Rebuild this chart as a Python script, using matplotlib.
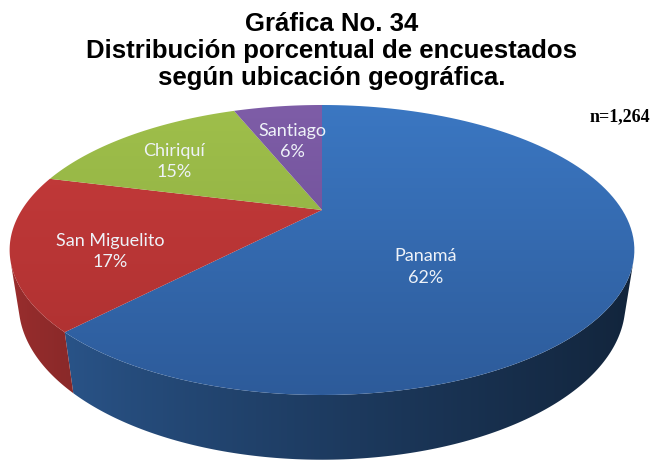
import numpy as np
import matplotlib.pyplot as plt
from matplotlib.patches import Polygon
from matplotlib.colors import to_rgb

# data
places = ["Panamá", "San Miguelito", "Chiriquí", "Santiago"]
shares = [62, 17, 15, 6]
top_colors = ["#3b77c2", "#c73b3b", "#9fbf4b", "#7e5da7"]
low_colors = ["#2d5b9a", "#ab3030", "#88a83d", "#674890"]
title = "Gráfica No. 34\nDistribución porcentual de encuestados\nsegún ubicación geográfica."
n_label = "n=1,264"

# view of the tilted disc, in pixels
W, H = 663, 463
CX, CY = 322, 210
F, DIST = 974, 3.244
TILT = np.radians(26.5)
DEPTH = 0.2
# small nudges of the labels away from the slice centroid
label_nudge = [(33, -2), (-15, 8), (-20, -2), (0, 0)]


def project(x, y, z):
    c, s = np.cos(TILT), np.sin(TILT)
    v = y * s + z * c
    w = y * c - z * s
    return CX + F * x / (DIST + w), CY - F * v / (DIST + w)


def side_shade(phi):
    return 0.3 + 0.5 * ((1 - np.sin(phi)) / 2) ** 1.3


fig = plt.figure(figsize=(W / 100, H / 100), dpi=100)
ax = fig.add_axes([0, 0, 1, 1])
ax.axis("off")

fracs = np.array(shares, dtype=float) / sum(shares)
edges = np.concatenate([[0], np.cumsum(fracs)]) * 2 * np.pi

# visible arc of the side wall and its shading per screen column
lim = np.arccos(-1 / (DIST * np.cos(TILT)))
vis0, vis1 = lim, 2 * np.pi - lim
arc = np.linspace(vis0, vis1, 400)
arc_x = np.array([project(np.sin(p), np.cos(p), 0)[0] for p in arc])
order = np.argsort(arc_x)
cols = np.arange(W) + 0.5
shade_cols = np.interp(cols, arc_x[order], side_shade(arc)[order])[None, :, None]

# side wall
for i in range(len(places)):
    a0, a1 = max(edges[i], vis0), min(edges[i + 1], vis1)
    if a1 <= a0:
        continue
    phis = np.linspace(a0, a1, 150)
    upper = [project(np.sin(p), np.cos(p), 0) for p in phis]
    lower = [project(np.sin(p), np.cos(p), -DEPTH) for p in phis[::-1]]
    poly = Polygon(upper + lower, closed=True, facecolor="none", edgecolor="none")
    ax.add_patch(poly)
    img = np.clip(np.array(to_rgb(top_colors[i]))[None, None, :] * shade_cols, 0, 1)
    img = np.repeat(img, 2, axis=0)
    im = ax.imshow(img, extent=(0, W, H, 0), aspect="auto", interpolation="bilinear")
    im.set_clip_path(poly)

# top face with vertical gradient
rows = np.arange(H)
t = np.clip((rows - 105) / (395 - 105), 0, 1)[:, None, None]
for i, place in enumerate(places):
    a0, a1 = edges[i], edges[i + 1]
    phis = np.linspace(a0, a1, 120)
    rim = [project(np.sin(p), np.cos(p), 0) for p in phis]
    pts = np.array([(CX, CY)] + rim)
    poly = Polygon(pts, closed=True, facecolor="none", edgecolor="none")
    ax.add_patch(poly)
    c_top = np.array(to_rgb(top_colors[i]))
    c_low = np.array(to_rgb(low_colors[i]))
    img = c_top * (1 - t) + c_low * t
    img = np.repeat(img, 2, axis=1)
    im = ax.imshow(img, extent=(0, W, H, 0), aspect="auto", interpolation="bilinear")
    im.set_clip_path(poly)

    # label near the centroid of the slice
    x, y = pts[:, 0], pts[:, 1]
    xs, ys = np.roll(x, -1), np.roll(y, -1)
    cross = x * ys - xs * y
    area = cross.sum() / 2
    gx = ((x + xs) * cross).sum() / (6 * area) + label_nudge[i][0]
    gy = ((y + ys) * cross).sum() / (6 * area) + label_nudge[i][1]
    ax.text(gx, gy, f"{place}\n{shares[i]}%", ha="center", va="center",
            color="#eef2f8", fontsize=13, family="Lato", linespacing=1.4)

ax.set_xlim(0, W)
ax.set_ylim(H, 0)

fig.text(0.5, 1 - 51 / H, title, ha="center", va="center", fontsize=18.5,
         fontweight="bold", family="Liberation Sans", linespacing=1.15)
fig.text(620 / W, 1 - 117 / H, n_label, ha="center", va="center", fontsize=13,
         fontweight="bold", family="Liberation Serif")

fig.savefig("out.png", dpi=100)
